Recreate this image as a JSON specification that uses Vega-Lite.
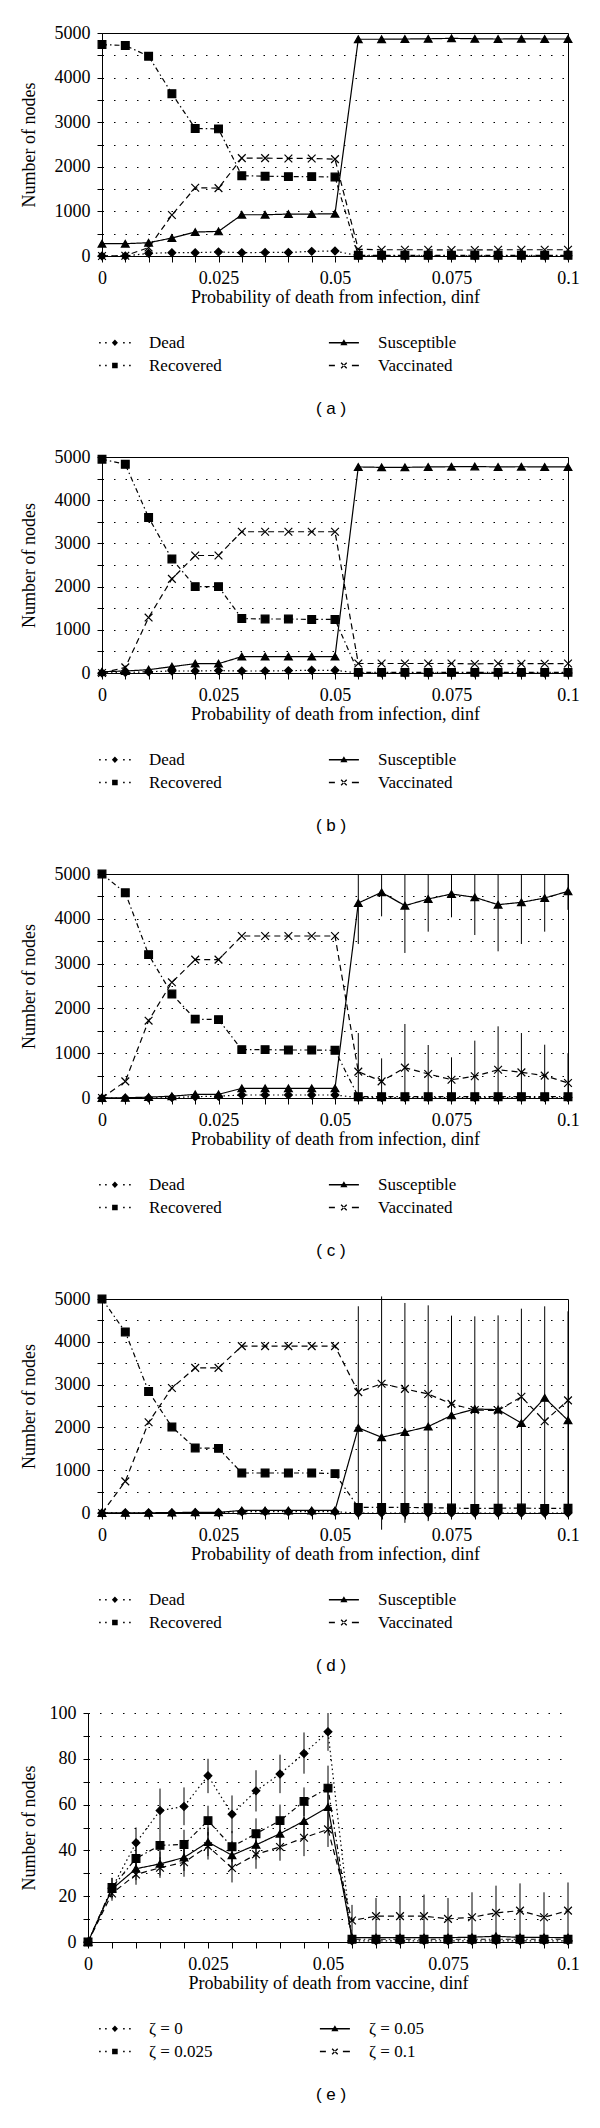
{
  "$schema": "https://vega.github.io/schema/vega-lite/v6.json",
  "padding": {"left": 19, "top": 23, "right": 5, "bottom": 5},
  "spacing": 29,
  "datasets": {
    "a": [
      {"p":0,"s":"Dead","v":0},{"p":0.005,"s":"Dead","v":0},{"p":0.01,"s":"Dead","v":60},{"p":0.015,"s":"Dead","v":75},{"p":0.02,"s":"Dead","v":75},{"p":0.025,"s":"Dead","v":90},{"p":0.03,"s":"Dead","v":75},{"p":0.035,"s":"Dead","v":80},{"p":0.04,"s":"Dead","v":80},{"p":0.045,"s":"Dead","v":104},{"p":0.05,"s":"Dead","v":112},{"p":0.055,"s":"Dead","v":5},{"p":0.06,"s":"Dead","v":5},{"p":0.065,"s":"Dead","v":5},{"p":0.07,"s":"Dead","v":5},{"p":0.075,"s":"Dead","v":5},{"p":0.08,"s":"Dead","v":5},{"p":0.085,"s":"Dead","v":5},{"p":0.09,"s":"Dead","v":5},{"p":0.095,"s":"Dead","v":5},{"p":0.1,"s":"Dead","v":5},
      {"p":0,"s":"Recovered","v":4740},{"p":0.005,"s":"Recovered","v":4720},{"p":0.01,"s":"Recovered","v":4480},{"p":0.015,"s":"Recovered","v":3640},{"p":0.02,"s":"Recovered","v":2860},{"p":0.025,"s":"Recovered","v":2850},{"p":0.03,"s":"Recovered","v":1800},{"p":0.035,"s":"Recovered","v":1790},{"p":0.04,"s":"Recovered","v":1780},{"p":0.045,"s":"Recovered","v":1780},{"p":0.05,"s":"Recovered","v":1770},{"p":0.055,"s":"Recovered","v":15},{"p":0.06,"s":"Recovered","v":15},{"p":0.065,"s":"Recovered","v":15},{"p":0.07,"s":"Recovered","v":15},{"p":0.075,"s":"Recovered","v":15},{"p":0.08,"s":"Recovered","v":15},{"p":0.085,"s":"Recovered","v":15},{"p":0.09,"s":"Recovered","v":15},{"p":0.095,"s":"Recovered","v":15},{"p":0.1,"s":"Recovered","v":15},
      {"p":0,"s":"Susceptible","v":276},{"p":0.005,"s":"Susceptible","v":276},{"p":0.01,"s":"Susceptible","v":298},{"p":0.015,"s":"Susceptible","v":403},{"p":0.02,"s":"Susceptible","v":537},{"p":0.025,"s":"Susceptible","v":552},{"p":0.03,"s":"Susceptible","v":925},{"p":0.035,"s":"Susceptible","v":925},{"p":0.04,"s":"Susceptible","v":940},{"p":0.045,"s":"Susceptible","v":940},{"p":0.05,"s":"Susceptible","v":948},{"p":0.055,"s":"Susceptible","v":4860},{"p":0.06,"s":"Susceptible","v":4860},{"p":0.065,"s":"Susceptible","v":4865},{"p":0.07,"s":"Susceptible","v":4870},{"p":0.075,"s":"Susceptible","v":4880},{"p":0.08,"s":"Susceptible","v":4870},{"p":0.085,"s":"Susceptible","v":4865},{"p":0.09,"s":"Susceptible","v":4870},{"p":0.095,"s":"Susceptible","v":4865},{"p":0.1,"s":"Susceptible","v":4865},
      {"p":0,"s":"Vaccinated","v":0},{"p":0.005,"s":"Vaccinated","v":5},{"p":0.01,"s":"Vaccinated","v":190},{"p":0.015,"s":"Vaccinated","v":918},{"p":0.02,"s":"Vaccinated","v":1530},{"p":0.025,"s":"Vaccinated","v":1522},{"p":0.03,"s":"Vaccinated","v":2194},{"p":0.035,"s":"Vaccinated","v":2194},{"p":0.04,"s":"Vaccinated","v":2187},{"p":0.045,"s":"Vaccinated","v":2187},{"p":0.05,"s":"Vaccinated","v":2172},{"p":0.055,"s":"Vaccinated","v":150},{"p":0.06,"s":"Vaccinated","v":140},{"p":0.065,"s":"Vaccinated","v":140},{"p":0.07,"s":"Vaccinated","v":140},{"p":0.075,"s":"Vaccinated","v":135},{"p":0.08,"s":"Vaccinated","v":135},{"p":0.085,"s":"Vaccinated","v":140},{"p":0.09,"s":"Vaccinated","v":140},{"p":0.095,"s":"Vaccinated","v":140},{"p":0.1,"s":"Vaccinated","v":140}
    ],
    "b": [
      {"p":0,"s":"Dead","v":0},{"p":0.005,"s":"Dead","v":10},{"p":0.01,"s":"Dead","v":30},{"p":0.015,"s":"Dead","v":46},{"p":0.02,"s":"Dead","v":46},{"p":0.025,"s":"Dead","v":55},{"p":0.03,"s":"Dead","v":46},{"p":0.035,"s":"Dead","v":46},{"p":0.04,"s":"Dead","v":55},{"p":0.045,"s":"Dead","v":62},{"p":0.05,"s":"Dead","v":62},{"p":0.055,"s":"Dead","v":0},{"p":0.06,"s":"Dead","v":0},{"p":0.065,"s":"Dead","v":0},{"p":0.07,"s":"Dead","v":0},{"p":0.075,"s":"Dead","v":0},{"p":0.08,"s":"Dead","v":0},{"p":0.085,"s":"Dead","v":0},{"p":0.09,"s":"Dead","v":0},{"p":0.095,"s":"Dead","v":0},{"p":0.1,"s":"Dead","v":0},
      {"p":0,"s":"Recovered","v":4950},{"p":0.005,"s":"Recovered","v":4830},{"p":0.01,"s":"Recovered","v":3600},{"p":0.015,"s":"Recovered","v":2640},{"p":0.02,"s":"Recovered","v":2000},{"p":0.025,"s":"Recovered","v":2000},{"p":0.03,"s":"Recovered","v":1260},{"p":0.035,"s":"Recovered","v":1250},{"p":0.04,"s":"Recovered","v":1250},{"p":0.045,"s":"Recovered","v":1240},{"p":0.05,"s":"Recovered","v":1240},{"p":0.055,"s":"Recovered","v":15},{"p":0.06,"s":"Recovered","v":15},{"p":0.065,"s":"Recovered","v":15},{"p":0.07,"s":"Recovered","v":15},{"p":0.075,"s":"Recovered","v":15},{"p":0.08,"s":"Recovered","v":15},{"p":0.085,"s":"Recovered","v":15},{"p":0.09,"s":"Recovered","v":15},{"p":0.095,"s":"Recovered","v":15},{"p":0.1,"s":"Recovered","v":15},
      {"p":0,"s":"Susceptible","v":30},{"p":0.005,"s":"Susceptible","v":46},{"p":0.01,"s":"Susceptible","v":77},{"p":0.015,"s":"Susceptible","v":147},{"p":0.02,"s":"Susceptible","v":216},{"p":0.025,"s":"Susceptible","v":216},{"p":0.03,"s":"Susceptible","v":379},{"p":0.035,"s":"Susceptible","v":380},{"p":0.04,"s":"Susceptible","v":380},{"p":0.045,"s":"Susceptible","v":380},{"p":0.05,"s":"Susceptible","v":380},{"p":0.055,"s":"Susceptible","v":4770},{"p":0.06,"s":"Susceptible","v":4760},{"p":0.065,"s":"Susceptible","v":4760},{"p":0.07,"s":"Susceptible","v":4770},{"p":0.075,"s":"Susceptible","v":4775},{"p":0.08,"s":"Susceptible","v":4780},{"p":0.085,"s":"Susceptible","v":4770},{"p":0.09,"s":"Susceptible","v":4775},{"p":0.095,"s":"Susceptible","v":4770},{"p":0.1,"s":"Susceptible","v":4770},
      {"p":0,"s":"Vaccinated","v":0},{"p":0.005,"s":"Vaccinated","v":130},{"p":0.01,"s":"Vaccinated","v":1283},{"p":0.015,"s":"Vaccinated","v":2179},{"p":0.02,"s":"Vaccinated","v":2720},{"p":0.025,"s":"Vaccinated","v":2720},{"p":0.03,"s":"Vaccinated","v":3270},{"p":0.035,"s":"Vaccinated","v":3270},{"p":0.04,"s":"Vaccinated","v":3270},{"p":0.045,"s":"Vaccinated","v":3270},{"p":0.05,"s":"Vaccinated","v":3270},{"p":0.055,"s":"Vaccinated","v":220},{"p":0.06,"s":"Vaccinated","v":220},{"p":0.065,"s":"Vaccinated","v":220},{"p":0.07,"s":"Vaccinated","v":220},{"p":0.075,"s":"Vaccinated","v":220},{"p":0.08,"s":"Vaccinated","v":210},{"p":0.085,"s":"Vaccinated","v":220},{"p":0.09,"s":"Vaccinated","v":215},{"p":0.095,"s":"Vaccinated","v":215},{"p":0.1,"s":"Vaccinated","v":220}
    ],
    "c": [
      {"p":0,"s":"Dead","v":0},{"p":0.005,"s":"Dead","v":0},{"p":0.01,"s":"Dead","v":0},{"p":0.015,"s":"Dead","v":10},{"p":0.02,"s":"Dead","v":30},{"p":0.025,"s":"Dead","v":40},{"p":0.03,"s":"Dead","v":67},{"p":0.035,"s":"Dead","v":67},{"p":0.04,"s":"Dead","v":67},{"p":0.045,"s":"Dead","v":67},{"p":0.05,"s":"Dead","v":67},{"p":0.055,"s":"Dead","v":10},{"p":0.06,"s":"Dead","v":10},{"p":0.065,"s":"Dead","v":10},{"p":0.07,"s":"Dead","v":10},{"p":0.075,"s":"Dead","v":10},{"p":0.08,"s":"Dead","v":10},{"p":0.085,"s":"Dead","v":10},{"p":0.09,"s":"Dead","v":10},{"p":0.095,"s":"Dead","v":10},{"p":0.1,"s":"Dead","v":10},
      {"p":0,"s":"Recovered","v":5000},{"p":0.005,"s":"Recovered","v":4580},{"p":0.01,"s":"Recovered","v":3200},{"p":0.015,"s":"Recovered","v":2320},{"p":0.02,"s":"Recovered","v":1760},{"p":0.025,"s":"Recovered","v":1750},{"p":0.03,"s":"Recovered","v":1080},{"p":0.035,"s":"Recovered","v":1080},{"p":0.04,"s":"Recovered","v":1071},{"p":0.045,"s":"Recovered","v":1071},{"p":0.05,"s":"Recovered","v":1064},{"p":0.055,"s":"Recovered","v":30},{"p":0.06,"s":"Recovered","v":30},{"p":0.065,"s":"Recovered","v":30},{"p":0.07,"s":"Recovered","v":30},{"p":0.075,"s":"Recovered","v":30},{"p":0.08,"s":"Recovered","v":30},{"p":0.085,"s":"Recovered","v":30},{"p":0.09,"s":"Recovered","v":30},{"p":0.095,"s":"Recovered","v":30},{"p":0.1,"s":"Recovered","v":30},
      {"p":0,"s":"Susceptible","v":0},{"p":0.005,"s":"Susceptible","v":5},{"p":0.01,"s":"Susceptible","v":20},{"p":0.015,"s":"Susceptible","v":40},{"p":0.02,"s":"Susceptible","v":82},{"p":0.025,"s":"Susceptible","v":82},{"p":0.03,"s":"Susceptible","v":215},{"p":0.035,"s":"Susceptible","v":215},{"p":0.04,"s":"Susceptible","v":215},{"p":0.045,"s":"Susceptible","v":215},{"p":0.05,"s":"Susceptible","v":215},{"p":0.055,"s":"Susceptible","v":4353,"lo":3438,"hi":5000},{"p":0.06,"s":"Susceptible","v":4591,"lo":4055,"hi":5000},{"p":0.065,"s":"Susceptible","v":4293,"lo":3237,"hi":5000},{"p":0.07,"s":"Susceptible","v":4442,"lo":3713,"hi":5000},{"p":0.075,"s":"Susceptible","v":4554,"lo":4033,"hi":5000},{"p":0.08,"s":"Susceptible","v":4479,"lo":3638,"hi":5000},{"p":0.085,"s":"Susceptible","v":4315,"lo":3274,"hi":5000},{"p":0.09,"s":"Susceptible","v":4368,"lo":3438,"hi":5000},{"p":0.095,"s":"Susceptible","v":4464,"lo":3713,"hi":5000},{"p":0.1,"s":"Susceptible","v":4613,"lo":4200,"hi":5000},
      {"p":0,"s":"Vaccinated","v":0},{"p":0.005,"s":"Vaccinated","v":372},{"p":0.01,"s":"Vaccinated","v":1726},{"p":0.015,"s":"Vaccinated","v":2582},{"p":0.02,"s":"Vaccinated","v":3088},{"p":0.025,"s":"Vaccinated","v":3088},{"p":0.03,"s":"Vaccinated","v":3616},{"p":0.035,"s":"Vaccinated","v":3616},{"p":0.04,"s":"Vaccinated","v":3616},{"p":0.045,"s":"Vaccinated","v":3616},{"p":0.05,"s":"Vaccinated","v":3616},{"p":0.055,"s":"Vaccinated","v":588,"lo":0,"hi":1450},{"p":0.06,"s":"Vaccinated","v":372,"lo":0,"hi":885},{"p":0.065,"s":"Vaccinated","v":677,"lo":0,"hi":1652},{"p":0.07,"s":"Vaccinated","v":536,"lo":0,"hi":1183},{"p":0.075,"s":"Vaccinated","v":409,"lo":0,"hi":908},{"p":0.08,"s":"Vaccinated","v":484,"lo":0,"hi":1280},{"p":0.085,"s":"Vaccinated","v":632,"lo":0,"hi":1600},{"p":0.09,"s":"Vaccinated","v":573,"lo":0,"hi":1450},{"p":0.095,"s":"Vaccinated","v":499,"lo":0,"hi":1190},{"p":0.1,"s":"Vaccinated","v":335,"lo":0,"hi":1000}
    ],
    "d": [
      {"p":0,"s":"Dead","v":0},{"p":0.005,"s":"Dead","v":5},{"p":0.01,"s":"Dead","v":5},{"p":0.015,"s":"Dead","v":5},{"p":0.02,"s":"Dead","v":10},{"p":0.025,"s":"Dead","v":10},{"p":0.03,"s":"Dead","v":30},{"p":0.035,"s":"Dead","v":30},{"p":0.04,"s":"Dead","v":30},{"p":0.045,"s":"Dead","v":30},{"p":0.05,"s":"Dead","v":30},{"p":0.055,"s":"Dead","v":0},{"p":0.06,"s":"Dead","v":0},{"p":0.065,"s":"Dead","v":0},{"p":0.07,"s":"Dead","v":0},{"p":0.075,"s":"Dead","v":0},{"p":0.08,"s":"Dead","v":0},{"p":0.085,"s":"Dead","v":0},{"p":0.09,"s":"Dead","v":0},{"p":0.095,"s":"Dead","v":0},{"p":0.1,"s":"Dead","v":0},
      {"p":0,"s":"Recovered","v":5000},{"p":0.005,"s":"Recovered","v":4230},{"p":0.01,"s":"Recovered","v":2840},{"p":0.015,"s":"Recovered","v":2010},{"p":0.02,"s":"Recovered","v":1520},{"p":0.025,"s":"Recovered","v":1510},{"p":0.03,"s":"Recovered","v":935},{"p":0.035,"s":"Recovered","v":935},{"p":0.04,"s":"Recovered","v":935},{"p":0.045,"s":"Recovered","v":935},{"p":0.05,"s":"Recovered","v":920},{"p":0.055,"s":"Recovered","v":130},{"p":0.06,"s":"Recovered","v":130},{"p":0.065,"s":"Recovered","v":130},{"p":0.07,"s":"Recovered","v":125},{"p":0.075,"s":"Recovered","v":115},{"p":0.08,"s":"Recovered","v":105},{"p":0.085,"s":"Recovered","v":110},{"p":0.09,"s":"Recovered","v":115},{"p":0.095,"s":"Recovered","v":105},{"p":0.1,"s":"Recovered","v":110},
      {"p":0,"s":"Susceptible","v":0},{"p":0.005,"s":"Susceptible","v":5},{"p":0.01,"s":"Susceptible","v":5},{"p":0.015,"s":"Susceptible","v":10},{"p":0.02,"s":"Susceptible","v":15},{"p":0.025,"s":"Susceptible","v":15},{"p":0.03,"s":"Susceptible","v":60},{"p":0.035,"s":"Susceptible","v":60},{"p":0.04,"s":"Susceptible","v":60},{"p":0.045,"s":"Susceptible","v":60},{"p":0.05,"s":"Susceptible","v":60},{"p":0.055,"s":"Susceptible","v":1990,"lo":-120,"hi":4830},{"p":0.06,"s":"Susceptible","v":1770,"lo":-390,"hi":5060},{"p":0.065,"s":"Susceptible","v":1890,"lo":-230,"hi":4907},{"p":0.07,"s":"Susceptible","v":2020,"lo":-190,"hi":4852},{"p":0.075,"s":"Susceptible","v":2280,"lo":-60,"hi":4611},{"p":0.08,"s":"Susceptible","v":2430,"lo":-60,"hi":4595},{"p":0.085,"s":"Susceptible","v":2415,"lo":-60,"hi":4618},{"p":0.09,"s":"Susceptible","v":2100,"lo":-60,"hi":4774},{"p":0.095,"s":"Susceptible","v":2690,"lo":-100,"hi":4829},{"p":0.1,"s":"Susceptible","v":2165,"lo":-60,"hi":4712},
      {"p":0,"s":"Vaccinated","v":0},{"p":0.005,"s":"Vaccinated","v":740},{"p":0.01,"s":"Vaccinated","v":2120},{"p":0.015,"s":"Vaccinated","v":2920},{"p":0.02,"s":"Vaccinated","v":3390},{"p":0.025,"s":"Vaccinated","v":3390},{"p":0.03,"s":"Vaccinated","v":3900},{"p":0.035,"s":"Vaccinated","v":3900},{"p":0.04,"s":"Vaccinated","v":3900},{"p":0.045,"s":"Vaccinated","v":3900},{"p":0.05,"s":"Vaccinated","v":3900},{"p":0.055,"s":"Vaccinated","v":2825},{"p":0.06,"s":"Vaccinated","v":3020},{"p":0.065,"s":"Vaccinated","v":2900},{"p":0.07,"s":"Vaccinated","v":2780},{"p":0.075,"s":"Vaccinated","v":2550},{"p":0.08,"s":"Vaccinated","v":2405},{"p":0.085,"s":"Vaccinated","v":2395},{"p":0.09,"s":"Vaccinated","v":2715},{"p":0.095,"s":"Vaccinated","v":2145},{"p":0.1,"s":"Vaccinated","v":2632}
    ],
    "e": [
      {"p":0,"s":"ζ = 0","v":0},{"p":0.005,"s":"ζ = 0","v":23.5,"lo":18,"hi":28},{"p":0.01,"s":"ζ = 0","v":43.3,"lo":36.5,"hi":50},{"p":0.015,"s":"ζ = 0","v":57.4,"lo":48,"hi":67},{"p":0.02,"s":"ζ = 0","v":59.2,"lo":51,"hi":67.5},{"p":0.025,"s":"ζ = 0","v":72.6,"lo":65,"hi":80},{"p":0.03,"s":"ζ = 0","v":55.8,"lo":47.5,"hi":64},{"p":0.035,"s":"ζ = 0","v":66.0,"lo":57,"hi":75},{"p":0.04,"s":"ζ = 0","v":73.4,"lo":65,"hi":81.8},{"p":0.045,"s":"ζ = 0","v":82.3,"lo":73.5,"hi":91.5},{"p":0.05,"s":"ζ = 0","v":91.8,"lo":83.5,"hi":100},{"p":0.055,"s":"ζ = 0","v":0.5},{"p":0.06,"s":"ζ = 0","v":0.5},{"p":0.065,"s":"ζ = 0","v":0.5},{"p":0.07,"s":"ζ = 0","v":0.5},{"p":0.075,"s":"ζ = 0","v":0.5},{"p":0.08,"s":"ζ = 0","v":0.5},{"p":0.085,"s":"ζ = 0","v":0.5},{"p":0.09,"s":"ζ = 0","v":0.5},{"p":0.095,"s":"ζ = 0","v":0.5},{"p":0.1,"s":"ζ = 0","v":0.5},
      {"p":0,"s":"ζ = 0.025","v":0},{"p":0.005,"s":"ζ = 0.025","v":23.8,"lo":19,"hi":28},{"p":0.01,"s":"ζ = 0.025","v":36.5,"lo":31,"hi":42},{"p":0.015,"s":"ζ = 0.025","v":42.2,"lo":36,"hi":48},{"p":0.02,"s":"ζ = 0.025","v":42.6,"lo":36,"hi":49},{"p":0.025,"s":"ζ = 0.025","v":53.0,"lo":46.5,"hi":59.5},{"p":0.03,"s":"ζ = 0.025","v":41.6,"lo":35,"hi":48.5},{"p":0.035,"s":"ζ = 0.025","v":47.3,"lo":41,"hi":54},{"p":0.04,"s":"ζ = 0.025","v":53.0,"lo":46,"hi":60},{"p":0.045,"s":"ζ = 0.025","v":61.4,"lo":55,"hi":67.5},{"p":0.05,"s":"ζ = 0.025","v":67.2,"lo":57.5,"hi":77},{"p":0.055,"s":"ζ = 0.025","v":1.2},{"p":0.06,"s":"ζ = 0.025","v":1.2},{"p":0.065,"s":"ζ = 0.025","v":1.2},{"p":0.07,"s":"ζ = 0.025","v":1.2},{"p":0.075,"s":"ζ = 0.025","v":1.2},{"p":0.08,"s":"ζ = 0.025","v":1.2},{"p":0.085,"s":"ζ = 0.025","v":1.2},{"p":0.09,"s":"ζ = 0.025","v":1.2},{"p":0.095,"s":"ζ = 0.025","v":1.2},{"p":0.1,"s":"ζ = 0.025","v":1.2},
      {"p":0,"s":"ζ = 0.05","v":0},{"p":0.005,"s":"ζ = 0.05","v":23.1},{"p":0.01,"s":"ζ = 0.05","v":32.0,"lo":27,"hi":37},{"p":0.015,"s":"ζ = 0.05","v":34.1,"lo":29,"hi":39.5},{"p":0.02,"s":"ζ = 0.05","v":36.9,"lo":31,"hi":43},{"p":0.025,"s":"ζ = 0.05","v":43.6,"lo":37.5,"hi":50},{"p":0.03,"s":"ζ = 0.05","v":37.9,"lo":31.5,"hi":44},{"p":0.035,"s":"ζ = 0.05","v":42.4,"lo":36,"hi":48.5},{"p":0.04,"s":"ζ = 0.05","v":47.3,"lo":40,"hi":54.5},{"p":0.045,"s":"ζ = 0.05","v":52.8,"lo":45.5,"hi":60},{"p":0.05,"s":"ζ = 0.05","v":58.9,"lo":50,"hi":68},{"p":0.055,"s":"ζ = 0.05","v":1.9},{"p":0.06,"s":"ζ = 0.05","v":1.9},{"p":0.065,"s":"ζ = 0.05","v":1.9},{"p":0.07,"s":"ζ = 0.05","v":1.9},{"p":0.075,"s":"ζ = 0.05","v":1.9},{"p":0.08,"s":"ζ = 0.05","v":2.1},{"p":0.085,"s":"ζ = 0.05","v":2.5},{"p":0.09,"s":"ζ = 0.05","v":2.0},{"p":0.095,"s":"ζ = 0.05","v":2.0},{"p":0.1,"s":"ζ = 0.05","v":1.9},
      {"p":0,"s":"ζ = 0.1","v":0},{"p":0.005,"s":"ζ = 0.1","v":21.2},{"p":0.01,"s":"ζ = 0.1","v":29.5,"lo":25,"hi":34.5},{"p":0.015,"s":"ζ = 0.1","v":32.4,"lo":28,"hi":37},{"p":0.02,"s":"ζ = 0.1","v":34.8,"lo":28.5,"hi":41},{"p":0.025,"s":"ζ = 0.1","v":41.8,"lo":36,"hi":48},{"p":0.03,"s":"ζ = 0.1","v":32.3,"lo":26,"hi":38.5},{"p":0.035,"s":"ζ = 0.1","v":38.3,"lo":32,"hi":44.5},{"p":0.04,"s":"ζ = 0.1","v":41.5,"lo":35.5,"hi":47.5},{"p":0.045,"s":"ζ = 0.1","v":45.5,"lo":37.5,"hi":53.5},{"p":0.05,"s":"ζ = 0.1","v":49.2,"lo":41.5,"hi":57},{"p":0.055,"s":"ζ = 0.1","v":9.4,"lo":2.6,"hi":16.2},{"p":0.06,"s":"ζ = 0.1","v":11.3,"lo":3.4,"hi":19.2},{"p":0.065,"s":"ζ = 0.1","v":11.3,"lo":2.7,"hi":19.9},{"p":0.07,"s":"ζ = 0.1","v":11.3,"lo":1.9,"hi":20.7},{"p":0.075,"s":"ζ = 0.1","v":10.1,"lo":1.0,"hi":19.2},{"p":0.08,"s":"ζ = 0.1","v":10.8,"lo":0,"hi":21.7},{"p":0.085,"s":"ζ = 0.1","v":12.7,"lo":0.8,"hi":24.6},{"p":0.09,"s":"ζ = 0.1","v":13.7,"lo":1.8,"hi":25.6},{"p":0.095,"s":"ζ = 0.1","v":10.8,"lo":0,"hi":21.7},{"p":0.1,"s":"ζ = 0.1","v":13.7,"lo":1.4,"hi":26}
    ]
  },
  "vconcat": [
    {
      "width": 466, "height": 223,
      "data": {"name": "a"},
      "title": {"text": "( a )"},
      "encoding": {
        "x": {"field": "p", "type": "quantitative", "title": "Probability of death from infection, dinf", "scale": {"domain": [0, 0.1], "nice": false, "zero": false},
          "axis": {"values": [0,0.005,0.01,0.015,0.02,0.025,0.03,0.035,0.04,0.045,0.05,0.055,0.06,0.065,0.07,0.075,0.08,0.085,0.09,0.095,0.1], "format": "~g", "labelExpr": "indexof(['0','0.025','0.05','0.075','0.1'], datum.label) >= 0 ? datum.label : ''"}},
        "y": {"field": "v", "type": "quantitative", "title": "Number of nodes", "scale": {"domain": [0, 5000], "nice": false},
          "axis": {"values": [0,500,1000,1500,2000,2500,3000,3500,4000,4500,5000], "format": "d", "labelExpr": "datum.value % 1000 === 0 ? datum.label : ''"}}
      },
      "layer": [
        {"mark": {"type": "line", "color": "black", "strokeWidth": 1.2},
         "encoding": {"strokeDash": {"field": "s", "type": "nominal", "legend": null, "scale": {"domain": ["Dead","Susceptible","Recovered","Vaccinated"], "range": [[1.5,3],[1,0],[5,3,1.5,3],[6,4]]}}}},
        {"mark": {"type": "point", "filled": true, "color": "black", "stroke": "black", "strokeWidth": 1.2, "size": 60, "opacity": 1},
         "encoding": {"shape": {"field": "s", "type": "nominal", "legend": null, "scale": {"domain": ["Dead","Susceptible","Recovered","Vaccinated"], "range": ["diamond","triangle-up","square","M-1,-1L1,1M-1,1L1,-1"]}}}},
        {"transform": [{"filter": "false"}],
         "mark": {"type": "point", "filled": true, "color": "black", "opacity": 1},
         "encoding": {
           "shape": {"field": "s", "type": "nominal", "legend": {"title": null}, "scale": {"domain": ["Dead","Susceptible","Recovered","Vaccinated"], "range": [
             "M-1.425,-0.1h0.2v0.2h-0.2ZM-0.675,-0.1h0.2v0.2h-0.2ZM1.575,-0.1h0.2v0.2h-0.2ZM2.325,-0.1h0.2v0.2h-0.2ZM0.55,-0.42L0.93,0L0.55,0.42L0.17,0Z",
             "M-1.325,-0.08h3.75v0.16h-3.75ZM0.55,-0.45L1.0,0.3L0.1,0.3Z",
             "M-1.425,-0.1h0.2v0.2h-0.2ZM-0.675,-0.1h0.2v0.2h-0.2ZM1.575,-0.1h0.2v0.2h-0.2ZM2.325,-0.1h0.2v0.2h-0.2ZM0.2,-0.35h0.7v0.7h-0.7Z",
             "M-1.325,-0.08h0.75v0.16h-0.75ZM1.55,-0.08h0.875v0.16h-0.875ZM0.257,-0.407L0.957,0.293L0.843,0.407L0.143,-0.293ZM0.257,0.407L0.957,-0.293L0.843,-0.407L0.143,0.293Z"]}}
         }}
      ],
      "resolve": {"scale": {"shape": "independent"}}
    },
    {
      "width": 466, "height": 216,
      "data": {"name": "b"},
      "title": {"text": "( b )"},
      "encoding": {
        "x": {"field": "p", "type": "quantitative", "title": "Probability of death from infection, dinf", "scale": {"domain": [0, 0.1], "nice": false, "zero": false},
          "axis": {"values": [0,0.005,0.01,0.015,0.02,0.025,0.03,0.035,0.04,0.045,0.05,0.055,0.06,0.065,0.07,0.075,0.08,0.085,0.09,0.095,0.1], "format": "~g", "labelExpr": "indexof(['0','0.025','0.05','0.075','0.1'], datum.label) >= 0 ? datum.label : ''"}},
        "y": {"field": "v", "type": "quantitative", "title": "Number of nodes", "scale": {"domain": [0, 5000], "nice": false},
          "axis": {"values": [0,500,1000,1500,2000,2500,3000,3500,4000,4500,5000], "format": "d", "labelExpr": "datum.value % 1000 === 0 ? datum.label : ''"}}
      },
      "layer": [
        {"mark": {"type": "line", "color": "black", "strokeWidth": 1.2},
         "encoding": {"strokeDash": {"field": "s", "type": "nominal", "legend": null, "scale": {"domain": ["Dead","Susceptible","Recovered","Vaccinated"], "range": [[1.5,3],[1,0],[5,3,1.5,3],[6,4]]}}}},
        {"mark": {"type": "point", "filled": true, "color": "black", "stroke": "black", "strokeWidth": 1.2, "size": 60, "opacity": 1},
         "encoding": {"shape": {"field": "s", "type": "nominal", "legend": null, "scale": {"domain": ["Dead","Susceptible","Recovered","Vaccinated"], "range": ["diamond","triangle-up","square","M-1,-1L1,1M-1,1L1,-1"]}}}},
        {"transform": [{"filter": "false"}],
         "mark": {"type": "point", "filled": true, "color": "black", "opacity": 1},
         "encoding": {
           "shape": {"field": "s", "type": "nominal", "legend": {"title": null}, "scale": {"domain": ["Dead","Susceptible","Recovered","Vaccinated"], "range": [
             "M-1.425,-0.1h0.2v0.2h-0.2ZM-0.675,-0.1h0.2v0.2h-0.2ZM1.575,-0.1h0.2v0.2h-0.2ZM2.325,-0.1h0.2v0.2h-0.2ZM0.55,-0.42L0.93,0L0.55,0.42L0.17,0Z",
             "M-1.325,-0.08h3.75v0.16h-3.75ZM0.55,-0.45L1.0,0.3L0.1,0.3Z",
             "M-1.425,-0.1h0.2v0.2h-0.2ZM-0.675,-0.1h0.2v0.2h-0.2ZM1.575,-0.1h0.2v0.2h-0.2ZM2.325,-0.1h0.2v0.2h-0.2ZM0.2,-0.35h0.7v0.7h-0.7Z",
             "M-1.325,-0.08h0.75v0.16h-0.75ZM1.55,-0.08h0.875v0.16h-0.875ZM0.257,-0.407L0.957,0.293L0.843,0.407L0.143,-0.293ZM0.257,0.407L0.957,-0.293L0.843,-0.407L0.143,0.293Z"]}}
         }}
      ],
      "resolve": {"scale": {"shape": "independent"}}
    },
    {
      "width": 466, "height": 224,
      "data": {"name": "c"},
      "title": {"text": "( c )"},
      "encoding": {
        "x": {"field": "p", "type": "quantitative", "title": "Probability of death from infection, dinf", "scale": {"domain": [0, 0.1], "nice": false, "zero": false},
          "axis": {"values": [0,0.005,0.01,0.015,0.02,0.025,0.03,0.035,0.04,0.045,0.05,0.055,0.06,0.065,0.07,0.075,0.08,0.085,0.09,0.095,0.1], "format": "~g", "labelExpr": "indexof(['0','0.025','0.05','0.075','0.1'], datum.label) >= 0 ? datum.label : ''"}},
        "y": {"field": "v", "type": "quantitative", "title": "Number of nodes", "scale": {"domain": [0, 5000], "nice": false},
          "axis": {"values": [0,500,1000,1500,2000,2500,3000,3500,4000,4500,5000], "format": "d", "labelExpr": "datum.value % 1000 === 0 ? datum.label : ''"}}
      },
      "layer": [
        {"transform": [{"filter": "isValid(datum.lo)"}],
         "mark": {"type": "rule", "color": "black", "strokeWidth": 1},
         "encoding": {"y": {"field": "lo", "type": "quantitative", "title": "Number of nodes"}, "y2": {"field": "hi"}}},
        {"mark": {"type": "line", "color": "black", "strokeWidth": 1.2},
         "encoding": {"strokeDash": {"field": "s", "type": "nominal", "legend": null, "scale": {"domain": ["Dead","Susceptible","Recovered","Vaccinated"], "range": [[1.5,3],[1,0],[5,3,1.5,3],[6,4]]}}}},
        {"mark": {"type": "point", "filled": true, "color": "black", "stroke": "black", "strokeWidth": 1.2, "size": 60, "opacity": 1},
         "encoding": {"shape": {"field": "s", "type": "nominal", "legend": null, "scale": {"domain": ["Dead","Susceptible","Recovered","Vaccinated"], "range": ["diamond","triangle-up","square","M-1,-1L1,1M-1,1L1,-1"]}}}},
        {"transform": [{"filter": "false"}],
         "mark": {"type": "point", "filled": true, "color": "black", "opacity": 1},
         "encoding": {
           "shape": {"field": "s", "type": "nominal", "legend": {"title": null}, "scale": {"domain": ["Dead","Susceptible","Recovered","Vaccinated"], "range": [
             "M-1.425,-0.1h0.2v0.2h-0.2ZM-0.675,-0.1h0.2v0.2h-0.2ZM1.575,-0.1h0.2v0.2h-0.2ZM2.325,-0.1h0.2v0.2h-0.2ZM0.55,-0.42L0.93,0L0.55,0.42L0.17,0Z",
             "M-1.325,-0.08h3.75v0.16h-3.75ZM0.55,-0.45L1.0,0.3L0.1,0.3Z",
             "M-1.425,-0.1h0.2v0.2h-0.2ZM-0.675,-0.1h0.2v0.2h-0.2ZM1.575,-0.1h0.2v0.2h-0.2ZM2.325,-0.1h0.2v0.2h-0.2ZM0.2,-0.35h0.7v0.7h-0.7Z",
             "M-1.325,-0.08h0.75v0.16h-0.75ZM1.55,-0.08h0.875v0.16h-0.875ZM0.257,-0.407L0.957,0.293L0.843,0.407L0.143,-0.293ZM0.257,0.407L0.957,-0.293L0.843,-0.407L0.143,0.293Z"]}}
         }}
      ],
      "resolve": {"scale": {"shape": "independent"}}
    },
    {
      "width": 466, "height": 214,
      "data": {"name": "d"},
      "title": {"text": "( d )"},
      "encoding": {
        "x": {"field": "p", "type": "quantitative", "title": "Probability of death from infection, dinf", "scale": {"domain": [0, 0.1], "nice": false, "zero": false},
          "axis": {"values": [0,0.005,0.01,0.015,0.02,0.025,0.03,0.035,0.04,0.045,0.05,0.055,0.06,0.065,0.07,0.075,0.08,0.085,0.09,0.095,0.1], "format": "~g", "labelExpr": "indexof(['0','0.025','0.05','0.075','0.1'], datum.label) >= 0 ? datum.label : ''"}},
        "y": {"field": "v", "type": "quantitative", "title": "Number of nodes", "scale": {"domain": [0, 5000], "nice": false},
          "axis": {"values": [0,500,1000,1500,2000,2500,3000,3500,4000,4500,5000], "format": "d", "labelExpr": "datum.value % 1000 === 0 ? datum.label : ''"}}
      },
      "layer": [
        {"transform": [{"filter": "isValid(datum.lo)"}],
         "mark": {"type": "rule", "color": "black", "strokeWidth": 1},
         "encoding": {"y": {"field": "lo", "type": "quantitative", "title": "Number of nodes"}, "y2": {"field": "hi"}}},
        {"mark": {"type": "line", "color": "black", "strokeWidth": 1.2},
         "encoding": {"strokeDash": {"field": "s", "type": "nominal", "legend": null, "scale": {"domain": ["Dead","Susceptible","Recovered","Vaccinated"], "range": [[1.5,3],[1,0],[5,3,1.5,3],[6,4]]}}}},
        {"mark": {"type": "point", "filled": true, "color": "black", "stroke": "black", "strokeWidth": 1.2, "size": 60, "opacity": 1},
         "encoding": {"shape": {"field": "s", "type": "nominal", "legend": null, "scale": {"domain": ["Dead","Susceptible","Recovered","Vaccinated"], "range": ["diamond","triangle-up","square","M-1,-1L1,1M-1,1L1,-1"]}}}},
        {"transform": [{"filter": "false"}],
         "mark": {"type": "point", "filled": true, "color": "black", "opacity": 1},
         "encoding": {
           "shape": {"field": "s", "type": "nominal", "legend": {"title": null}, "scale": {"domain": ["Dead","Susceptible","Recovered","Vaccinated"], "range": [
             "M-1.425,-0.1h0.2v0.2h-0.2ZM-0.675,-0.1h0.2v0.2h-0.2ZM1.575,-0.1h0.2v0.2h-0.2ZM2.325,-0.1h0.2v0.2h-0.2ZM0.55,-0.42L0.93,0L0.55,0.42L0.17,0Z",
             "M-1.325,-0.08h3.75v0.16h-3.75ZM0.55,-0.45L1.0,0.3L0.1,0.3Z",
             "M-1.425,-0.1h0.2v0.2h-0.2ZM-0.675,-0.1h0.2v0.2h-0.2ZM1.575,-0.1h0.2v0.2h-0.2ZM2.325,-0.1h0.2v0.2h-0.2ZM0.2,-0.35h0.7v0.7h-0.7Z",
             "M-1.325,-0.08h0.75v0.16h-0.75ZM1.55,-0.08h0.875v0.16h-0.875ZM0.257,-0.407L0.957,0.293L0.843,0.407L0.143,-0.293ZM0.257,0.407L0.957,-0.293L0.843,-0.407L0.143,0.293Z"]}}
         }}
      ],
      "resolve": {"scale": {"shape": "independent"}}
    },
    {
      "width": 466, "height": 229,
      "view": {"stroke": null},
      "data": {"name": "e"},
      "title": {"text": "( e )"},
      "encoding": {
        "x": {"field": "p", "type": "quantitative", "title": "Probability of death from vaccine, dinf", "scale": {"domain": [0, 0.1], "nice": false, "zero": false, "range": [-14, 466]},
          "axis": {"values": [0,0.005,0.01,0.015,0.02,0.025,0.03,0.035,0.04,0.045,0.05,0.055,0.06,0.065,0.07,0.075,0.08,0.085,0.09,0.095,0.1], "format": "~g", "labelExpr": "indexof(['0','0.025','0.05','0.075','0.1'], datum.label) >= 0 ? datum.label : ''"}},
        "y": {"field": "v", "type": "quantitative", "title": "Number of nodes", "scale": {"domain": [0, 100], "nice": false},
          "axis": {"values": [0,10,20,30,40,50,60,70,80,90,100], "format": "d", "titlePadding": 11, "offset": 14, "labelExpr": "datum.value % 20 === 0 ? datum.label : ''"}}
      },
      "layer": [
        {"data": {"values": [{}]},
         "mark": {"type": "rule", "color": "black", "strokeWidth": 1},
         "encoding": {"x": {"datum": 0, "type": "quantitative", "title": "Probability of death from vaccine, dinf"}, "x2": {"datum": 0.1}, "y": {"datum": 100, "type": "quantitative", "title": "Number of nodes"}}},
        {"data": {"values": [{}]},
         "mark": {"type": "rule", "color": "black", "strokeWidth": 1},
         "encoding": {"x": {"datum": 0.1, "type": "quantitative", "title": "Probability of death from vaccine, dinf"}, "y": {"datum": 0, "type": "quantitative", "title": "Number of nodes"}, "y2": {"datum": 100}}},
        {"transform": [{"filter": "isValid(datum.lo)"}],
         "mark": {"type": "rule", "color": "black", "strokeWidth": 1},
         "encoding": {"y": {"field": "lo", "type": "quantitative", "title": "Number of nodes"}, "y2": {"field": "hi"}}},
        {"mark": {"type": "line", "color": "black", "strokeWidth": 1.2},
         "encoding": {"strokeDash": {"field": "s", "type": "nominal", "legend": null, "scale": {"domain": ["ζ = 0","ζ = 0.05","ζ = 0.025","ζ = 0.1"], "range": [[1.5,3],[1,0],[5,3,1.5,3],[6,4]]}}}},
        {"mark": {"type": "point", "filled": true, "color": "black", "stroke": "black", "strokeWidth": 1.2, "size": 60, "opacity": 1},
         "encoding": {"shape": {"field": "s", "type": "nominal", "legend": null, "scale": {"domain": ["ζ = 0","ζ = 0.05","ζ = 0.025","ζ = 0.1"], "range": ["diamond","triangle-up","square","M-1,-1L1,1M-1,1L1,-1"]}}}},
        {"transform": [{"filter": "false"}],
         "mark": {"type": "point", "filled": true, "color": "black", "opacity": 1},
         "encoding": {
           "shape": {"field": "s", "type": "nominal", "legend": {"title": null}, "scale": {"domain": ["ζ = 0","ζ = 0.05","ζ = 0.025","ζ = 0.1"], "range": [
             "M-1.425,-0.1h0.2v0.2h-0.2ZM-0.675,-0.1h0.2v0.2h-0.2ZM1.575,-0.1h0.2v0.2h-0.2ZM2.325,-0.1h0.2v0.2h-0.2ZM0.55,-0.42L0.93,0L0.55,0.42L0.17,0Z",
             "M-1.325,-0.08h3.75v0.16h-3.75ZM0.55,-0.45L1.0,0.3L0.1,0.3Z",
             "M-1.425,-0.1h0.2v0.2h-0.2ZM-0.675,-0.1h0.2v0.2h-0.2ZM1.575,-0.1h0.2v0.2h-0.2ZM2.325,-0.1h0.2v0.2h-0.2ZM0.2,-0.35h0.7v0.7h-0.7Z",
             "M-1.325,-0.08h0.75v0.16h-0.75ZM1.55,-0.08h0.875v0.16h-0.875ZM0.257,-0.407L0.957,0.293L0.843,0.407L0.143,-0.293ZM0.257,0.407L0.957,-0.293L0.843,-0.407L0.143,0.293Z"]}}
         }}
      ],
      "resolve": {"scale": {"shape": "independent"}}
    }
  ],
  "config": {
    "font": "Liberation Serif",
    "view": {"stroke": "black", "strokeWidth": 1},
    "axis": {"domainColor": "black", "tickColor": "black", "labelColor": "black", "titleColor": "black", "labelFont": "Liberation Serif", "titleFont": "Liberation Serif", "labelFontSize": 18, "titleFontSize": 18, "titleFontWeight": "normal", "domainWidth": 1, "tickWidth": 1, "labelOverlap": false, "labelFlush": false, "gridColor": "black", "gridDash": [1.5, 10], "gridWidth": 1.2, "gridOpacity": 1},
    "axisX": {"labelPadding": 7, "titlePadding": 1, "tickSize": 6, "grid": false},
    "axisY": {"labelPadding": 7, "titlePadding": 16, "tickSize": 5, "grid": true},
    "legend": {"orient": "bottom", "columns": 2, "direction": "horizontal", "symbolSize": 256, "labelOffset": 30, "columnPadding": 106, "rowPadding": 5, "offset": 28, "labelFont": "Liberation Serif", "labelFontSize": 17, "labelColor": "black", "symbolStrokeWidth": 0, "symbolFillColor": "black", "labelLimit": 300},
    "title": {"orient": "bottom", "anchor": "middle", "font": "Liberation Sans", "fontSize": 17, "fontWeight": "normal", "color": "black", "offset": 27, "dx": -4}
  }
}
